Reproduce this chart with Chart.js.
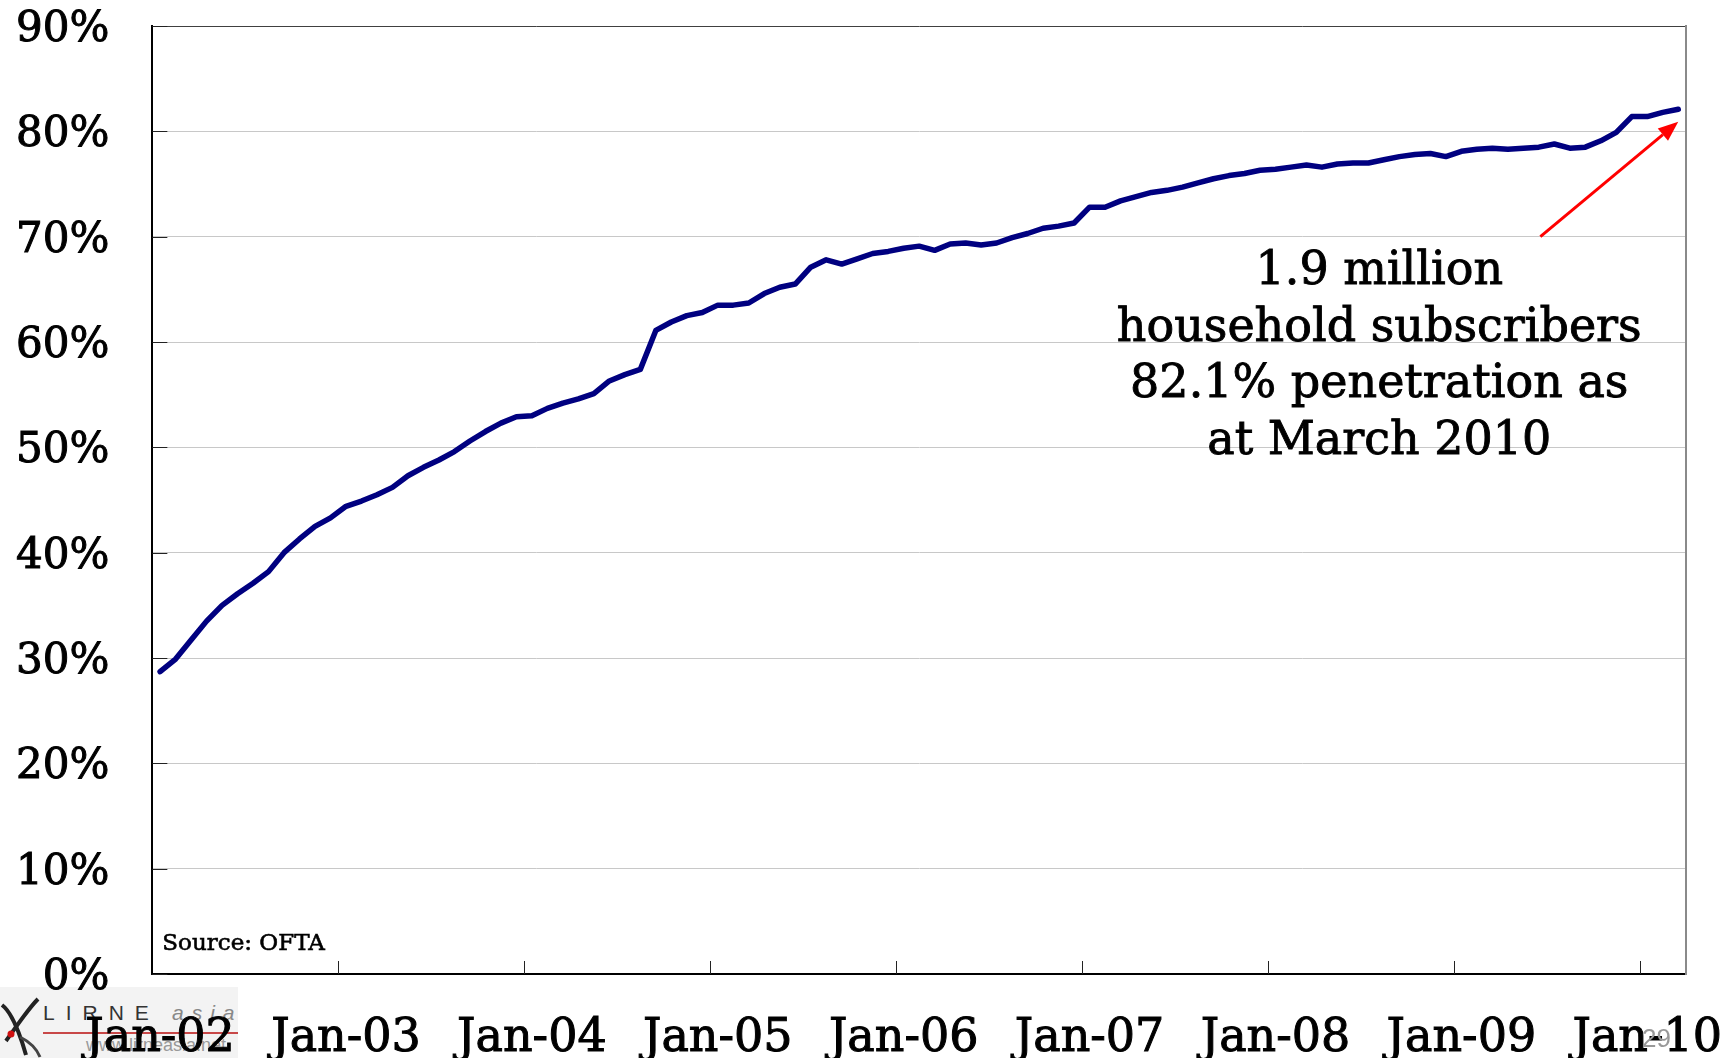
<!DOCTYPE html>
<html>
<head>
<meta charset="utf-8">
<script src="https://cdn.jsdelivr.net/npm/chart.js@4.4.1/dist/chart.umd.min.js"></script>
<style>
  html, body { margin: 0; padding: 0; background: #ffffff; }
  #wrap { position: relative; width: 1733px; height: 1058px; overflow: hidden; }
  #logo { position: absolute; left: 0; top: 987px; width: 238px; height: 71px; background: #f3f3f3; z-index: 0; }
  #logo .lirne { position: absolute; left: 43px; top: 15px; font-family: 'Liberation Sans', sans-serif; font-size: 21px; letter-spacing: 11px; color: #333; line-height: 21px; }
  #logo .asia { position: absolute; left: 172px; top: 15px; font-family: 'Liberation Sans', sans-serif; font-style: italic; font-size: 21px; letter-spacing: 8px; color: #888; line-height: 21px; }
  #logo .rule { position: absolute; left: 43px; top: 45px; width: 195px; height: 2px; background: #c84848; }
  #logo .www { position: absolute; left: 86px; top: 49px; font-family: 'Liberation Sans', sans-serif; font-size: 18px; color: #999; line-height: 18px; }
  #logo svg { position: absolute; left: 0; top: 10px; }
  canvas { position: absolute; left: 0; top: 0; z-index: 1; }
  #page { position: absolute; left: 1642px; top: 1023px; font-family: 'Liberation Sans', sans-serif; font-size: 26px; color: #999; z-index: 2; }
</style>
</head>
<body>
<div id="wrap">
  <div id="logo">
    <svg width="42" height="61" viewBox="0 0 42 61">
      <path d="M2 8 C 10 14, 18 30, 26 58" stroke="#222" stroke-width="4" fill="none"/>
      <path d="M38 2 C 28 12, 16 30, 6 44" stroke="#222" stroke-width="4" fill="none"/>
      <path d="M20 40 C 28 44, 36 50, 40 60" stroke="#444" stroke-width="3" fill="none"/>
      <circle cx="11" cy="37" r="3.5" fill="#d01010"/>
    </svg>
    <div class="lirne">LIRNE</div>
    <div class="asia">asia</div>
    <div class="rule"></div>
    <div class="www">www.lirneasia.net</div>
  </div>
  <canvas id="c" width="1733" height="1058"></canvas>
  <div id="page">29</div>
</div>
<script>
// ---- data ----
const years = ['02','03','04','05','06','07','08','09','10'];
const monthNames = ['Jan','Feb','Mar','Apr','May','Jun','Jul','Aug','Sep','Oct','Nov','Dec'];
// monthly categories Jan-02 .. Mar-10
const categories = [];
years.forEach(y => monthNames.forEach(m => categories.push(m + '-' + y)));
categories.length = 99;

// household broadband penetration (%)
const penetration = [
  28.7, 29.9, 31.7, 33.5, 35.0, 36.1, 37.1, 38.2, 40.0, 41.3, 42.5, 43.3,   // 2002
  44.4, 44.9, 45.5, 46.2, 47.3, 48.1, 48.8, 49.6, 50.6, 51.5, 52.3, 52.9,   // 2003
  53.0, 53.7, 54.2, 54.6, 55.1, 56.3, 56.9, 57.4, 61.1, 61.9, 62.5, 62.8,   // 2004
  63.5, 63.5, 63.7, 64.6, 65.2, 65.5, 67.1, 67.8, 67.4, 67.9, 68.4, 68.6,   // 2005
  68.9, 69.1, 68.7, 69.3, 69.4, 69.2, 69.4, 69.9, 70.3, 70.8, 71.0, 71.3,   // 2006
  72.8, 72.8, 73.4, 73.8, 74.2, 74.4, 74.7, 75.1, 75.5, 75.8, 76.0, 76.3,   // 2007
  76.4, 76.6, 76.8, 76.6, 76.9, 77.0, 77.0, 77.3, 77.6, 77.8, 77.9, 77.6,   // 2008
  78.1, 78.3, 78.4, 78.3, 78.4, 78.5, 78.8, 78.4, 78.5, 79.1, 79.9, 81.4,   // 2009
  81.4, 81.8, 82.1                                                          // 2010
];

const yTicks = [0, 10, 20, 30, 40, 50, 60, 70, 80, 90];
const annotationLines = ['1.9 million', 'household subscribers', '82.1% penetration as', 'at March 2010'];
const sourceText = 'Source: OFTA';

const SERIF = "'DejaVu Serif', 'Liberation Serif', serif";

// inward tick marks, placed through the scales
const innerTicks = {
  id: 'innerTicks',
  beforeDatasetsDraw(chart) {
    const ctx = chart.ctx;
    const xs = chart.scales.x, ys = chart.scales.y;
    const ca = chart.chartArea;
    ctx.save();
    ctx.strokeStyle = '#222';
    ctx.lineWidth = 1;
    ctx.beginPath();
    categories.forEach((c, i) => {
      if (i > 0 && i % 12 === 0) {
        const x = Math.round(xs.getPixelForValue(i - 0.5)) + 0.5;
        ctx.moveTo(x, ca.bottom);
        ctx.lineTo(x, ca.bottom - 13);
      }
    });
    yTicks.forEach(v => {
      const y = Math.round(ys.getPixelForValue(v)) + 0.5;
      ctx.moveTo(ca.left, y);
      ctx.lineTo(ca.left + 15, y);
    });
    ctx.stroke();
    ctx.restore();
  }
};

const annotationPlugin = {
  id: 'annot',
  afterDatasetsDraw(chart) {
    const ctx = chart.ctx;
    const xs = chart.scales.x, ys = chart.scales.y;
    const ca = chart.chartArea;
    ctx.save();
    ctx.fillStyle = '#000';
    ctx.strokeStyle = '#000';
    ctx.lineWidth = 0.9;
    ctx.font = "46px " + SERIF;
    ctx.textAlign = 'center';
    ctx.textBaseline = 'alphabetic';
    const cx = xs.getPixelForValue(78.7);
    const y0 = ys.getPixelForValue(65.5);
    annotationLines.forEach((t, i) => {
      ctx.fillText(t, cx, y0 + i * 56.5);
      ctx.strokeText(t, cx, y0 + i * 56.5);
    });
    // arrow
    const x1 = xs.getPixelForValue(89.1), yA = ys.getPixelForValue(70.0);
    const x2 = xs.getPixelForValue(98), yB = ys.getPixelForValue(80.9);
    const ang = Math.atan2(yB - yA, x2 - x1);
    const hl = 20, hw = 8;
    ctx.strokeStyle = '#ff0000';
    ctx.fillStyle = '#ff0000';
    ctx.lineWidth = 3;
    ctx.beginPath();
    ctx.moveTo(x1, yA);
    ctx.lineTo(x2 - hl * Math.cos(ang), yB - hl * Math.sin(ang));
    ctx.stroke();
    ctx.beginPath();
    ctx.moveTo(x2, yB);
    ctx.lineTo(x2 - hl * Math.cos(ang) + hw * Math.sin(ang), yB - hl * Math.sin(ang) - hw * Math.cos(ang));
    ctx.lineTo(x2 - hl * Math.cos(ang) - hw * Math.sin(ang), yB - hl * Math.sin(ang) + hw * Math.cos(ang));
    ctx.closePath();
    ctx.fill();
    // source
    ctx.fillStyle = '#000';
    ctx.strokeStyle = '#000';
    ctx.lineWidth = 0.6;
    ctx.font = "23px " + SERIF;
    ctx.textAlign = 'left';
    ctx.fillText(sourceText, ca.left + 10, ca.bottom - 24);
    ctx.strokeText(sourceText, ca.left + 10, ca.bottom - 24);
    ctx.restore();
  }
};

new Chart(document.getElementById('c'), {
  type: 'line',
  data: {
    labels: categories,
    datasets: [{
      data: penetration,
      borderColor: '#000080',
      borderWidth: 5.5,
      borderJoinStyle: 'round',
      borderCapStyle: 'round',
      pointRadius: 0,
      tension: 0,
      fill: false
    }]
  },
  options: {
    responsive: false,
    animation: false,
    devicePixelRatio: 1,
    layout: { padding: { left: 16, right: 47, top: 26, bottom: -4 } },
    plugins: { legend: { display: false }, tooltip: { enabled: false } },
    scales: {
      x: {
        type: 'category',
        offset: true,
        grid: {
          offset: true,
          drawOnChartArea: false,
          drawTicks: true,
          tickLength: 42,
          color: 'rgba(0,0,0,0)',
          tickColor: 'rgba(0,0,0,0)'
        },
        border: { display: true, color: '#000', width: 2 },
        ticks: {
          autoSkip: false,
          maxRotation: 0,
          minRotation: 0,
          padding: 0,
          color: '#000',
          textStrokeColor: '#000',
          textStrokeWidth: 1,
          font: { family: SERIF, size: 46, lineHeight: 1.0 },
          callback: (v, i) => (i % 12 === 0 ? categories[i] : '')
        }
      },
      y: {
        min: 0,
        max: 90,
        afterBuildTicks: (s) => { s.ticks = yTicks.map(v => ({ value: v })); },
        grid: {
          color: (c) => (c.tick && c.tick.value === 90) ? '#404040' : '#c8c8c8',
          tickColor: 'rgba(0,0,0,0)',
          tickLength: 43,
          lineWidth: 1
        },
        border: { display: true, color: '#000', width: 2 },
        ticks: {
          padding: 0,
          labelOffset: 4,
          color: '#000',
          textStrokeColor: '#000',
          textStrokeWidth: 1,
          font: { family: SERIF, size: 42, lineHeight: 1.2 },
          callback: (v) => v + '%'
        }
      },
      yr: {
        position: 'right',
        min: 0,
        max: 90,
        grid: { display: false, drawTicks: false },
        ticks: { display: false },
        border: { display: true, color: '#8a8a8a', width: 2 }
      }
    }
  },
  plugins: [innerTicks, annotationPlugin]
});
</script>
</body>
</html>
